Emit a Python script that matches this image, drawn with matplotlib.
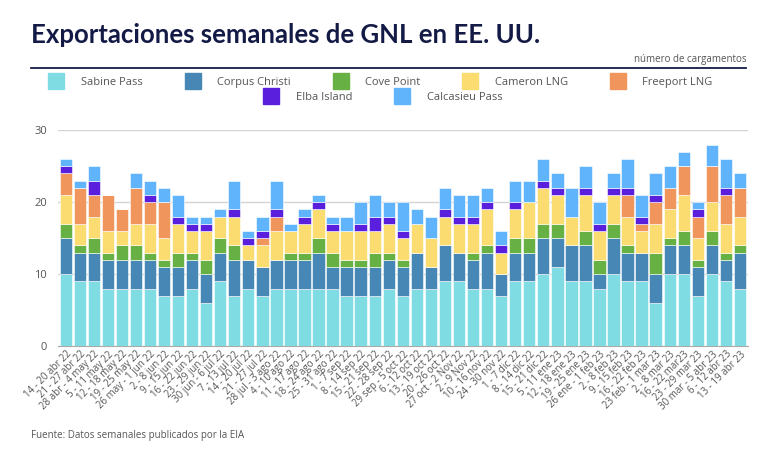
import matplotlib
matplotlib.use("Agg")
import matplotlib.pyplot as plt
from matplotlib.lines import Line2D
import numpy as np

weeks = ["14 - 20 abr 22", "21 - 27 abr 22", "28 abr - 4 may 22", "5 - 11 may 22", "12 - 18 may 22",
         "19 - 25 may 22", "26 may - 1 jun 22", "2 - 8 jun 22", "9 - 15 jun 22", "16 - 22 jun 22",
         "23 - 29 jun 22", "30 jun - 6 jul 22", "7 - 13 jul 22", "14 - 20 jul 22", "21 - 27 jul 22",
         "28 jul - 3 ago 22", "4 - 10 ago 22", "11 - 17 ago 22", "18 - 24 ago 22", "25 - 31 ago 22",
         "1 - 7 sep 22", "8 - 14 sep 22", "15 - 21 sep 22", "22 - 28 sep 22", "29 sep - 5 oct 22",
         "6 - 12 oct 22", "13 - 19 oct 22", "20 - 26 oct 22", "27 oct - 2 Nov 22", "2 - 9 Nov 22",
         "10 - 16 nov 22", "24 - 30 nov 22", "1 - 7 dic 22", "8 - 14 dic 22", "15 - 21 dic 22",
         "5 - 11 ene 23", "12 - 18 ene 23", "19 - 25 ene 23", "26 ene - 1 feb 23", "2 - 8 feb 23",
         "9 - 15 feb 23", "16 - 22 feb 23", "23 feb - 1 mar 23", "2 - 8 mar 23", "16 - 22 mar23",
         "23 - 29 mar 23", "30 mar - 5 abr 23", "6 - 12 abr 23", "13 - 19 abr 23"]

sabine    = [10, 9, 9, 8, 8, 8, 8, 7, 7, 8, 6, 9, 7, 8, 7, 8, 8, 8, 8, 8, 7, 7, 7, 8, 7,
             8, 8, 9, 9, 8, 8, 7, 9, 9, 10, 11, 9, 9, 8, 10, 9, 9, 6, 10, 10, 7, 10, 9, 8]
corpus    = [5, 4, 4, 4, 4, 4, 4, 4, 4, 4, 4, 4, 5, 4, 4, 4, 4, 4, 5, 3, 4, 4, 4, 4, 4,
             5, 3, 5, 4, 4, 5, 3, 4, 4, 5, 4, 5, 5, 2, 5, 4, 4, 4, 4, 4, 4, 4, 3, 5]
cove      = [2, 1, 2, 1, 2, 2, 1, 1, 2, 1, 2, 2, 2, 0, 0, 0, 1, 1, 2, 2, 1, 1, 2, 1, 1,
             0, 0, 0, 0, 1, 1, 0, 2, 2, 2, 2, 0, 2, 2, 2, 1, 0, 3, 1, 2, 1, 2, 1, 1]
cameron   = [4, 3, 3, 3, 2, 3, 4, 3, 4, 3, 4, 3, 4, 2, 3, 4, 3, 4, 4, 3, 4, 4, 3, 4, 3,
             4, 4, 4, 4, 4, 5, 3, 4, 5, 5, 4, 4, 5, 4, 4, 4, 3, 4, 4, 5, 3, 4, 4, 4]
freeport  = [3, 5, 3, 5, 3, 5, 3, 5, 0, 0, 0, 0, 0, 0, 1, 2, 0, 0, 0, 0, 0, 0, 0, 0, 0,
             0, 0, 0, 0, 0, 0, 0, 0, 0, 0, 0, 0, 0, 0, 0, 3, 1, 3, 3, 4, 3, 5, 4, 4]
elba      = [1, 0, 2, 0, 0, 0, 1, 0, 1, 1, 1, 0, 1, 1, 1, 1, 0, 1, 1, 1, 0, 1, 2, 1, 1,
             0, 0, 1, 1, 1, 1, 1, 1, 0, 1, 1, 0, 1, 1, 1, 1, 1, 1, 0, 0, 1, 0, 1, 0]
calcasieu = [1, 1, 2, 0, 0, 2, 2, 2, 3, 1, 1, 1, 4, 1, 2, 4, 1, 1, 1, 1, 2, 3, 3, 2, 4,
             2, 3, 3, 3, 3, 2, 2, 3, 3, 3, 2, 4, 3, 3, 2, 4, 3, 3, 3, 2, 1, 3, 4, 2]

series = [("Sabine Pass", sabine, "#80dce3"),
          ("Corpus Christi", corpus, "#4787b5"),
          ("Cove Point", cove, "#67b043"),
          ("Cameron LNG", cameron, "#fadc70"),
          ("Freeport LNG", freeport, "#f0965c"),
          ("Elba Island", elba, "#5a1fdc"),
          ("Calcasieu Pass", calcasieu, "#5fb4fb")]

navy = "#141a46"
grey = "#555555"
plt.rcParams["font.family"] = ["Open Sans", "DejaVu Sans"]

fig = plt.figure(figsize=(7.68, 4.49), dpi=100)
ax = fig.add_axes([0.0755, 0.229, 0.898, 0.481])

x = np.arange(len(weeks))
bottom = np.zeros(len(weeks))
for name, vals, col in series:
    ax.bar(x, vals, bottom=bottom, width=0.88, color=col, edgecolor="white", linewidth=0.4, zorder=3)
    bottom += np.array(vals)

ax.set_ylim(0, 30)
ax.set_xlim(-0.55, len(weeks) - 0.45)
ax.set_yticks([0, 10, 20, 30])
ax.grid(axis="y", color="#d4d4d4", linewidth=1, zorder=0)
for s in ["top", "right", "left"]:
    ax.spines[s].set_visible(False)
ax.spines["bottom"].set_color("#aaaaaa")
ax.tick_params(axis="y", length=0, labelsize=8, labelcolor=grey, pad=8)
ax.tick_params(axis="x", length=0, labelsize=7, labelcolor=grey, pad=2)
ax.set_xticks(x)
ax.set_xticklabels(weeks, rotation=45, ha="right", rotation_mode="anchor")

fig.text(0.04, 0.905, "Exportaciones semanales de GNL en EE. UU.", fontsize=18.5,
         fontweight="bold", color=navy, family="Lato")
fig.text(0.972, 0.862, "número de cargamentos", fontsize=7, color=grey, ha="right")
fig.add_artist(Line2D([0.04, 0.972], [0.848, 0.848], color=navy, linewidth=1.3))
fig.text(0.04, 0.025, "Fuente: Datos semanales publicados por la EIA", fontsize=7, color=grey)

def handles(items):
    return [Line2D([], [], marker="s", linestyle="", markersize=11, color=c, label=n)
            for n, _, c in items]

kw = dict(frameon=False, fontsize=8, labelcolor=grey, handletextpad=1.7,
          columnspacing=4.0, handlelength=1, borderaxespad=0)
fig.legend(handles=handles(series[:5]), ncol=5, loc="center", bbox_to_anchor=(0.497, 0.817), **kw)
fig.legend(handles=handles(series[5:]), ncol=2, loc="center", bbox_to_anchor=(0.5, 0.782), **kw)

fig.savefig("out.png", dpi=100)
